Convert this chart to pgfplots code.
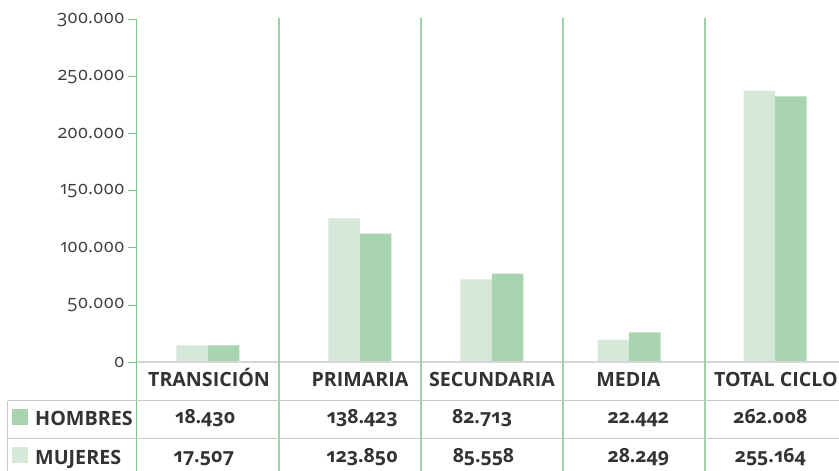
\documentclass[border=0pt]{standalone}
\usepackage{pgfplots}
\pgfplotsset{compat=1.18}
\usepackage{fontspec}
\setmainfont{Open Sans}[Numbers=OldStyle]
\definecolor{light}{HTML}{D6E8D9}
\definecolor{dark}{HTML}{A8D4B0}
\definecolor{gline}{HTML}{7CC68C}
\definecolor{gline2}{HTML}{9ED3A8}
\definecolor{grayl}{HTML}{C8C8C8}
\definecolor{zero}{HTML}{D6D6D6}
\definecolor{txt}{HTML}{333333}
\begin{document}
\begin{tikzpicture}
\begin{axis}[
  scale only axis, width=702bp, height=342bp,
  xmin=-0.5, xmax=4.4437, ymin=0, ymax=300000,
  ybar=0pt, bar width=31.5bp,
  axis x line=none, axis y line*=left,
  y axis line style={draw=none},
  ytick={0,50000,...,300000},
  scaled y ticks=false,
  /pgf/number format/fixed,
  /pgf/number format/1000 sep={.},
  /pgf/number format/assume math mode=true,
  yticklabel style={font=\fontsize{18.5}{21}\selectfont, text=txt!95},
  tick style={gline, line width=1bp},
  major tick length=9bp, tick align=outside,
  clip=false,
]
\addplot[fill=light, draw=none] coordinates {(0,14500) (1.07,125900) (2,72400) (2.965,19700) (3.993,238000)};
\addplot[fill=dark, draw=none] coordinates {(0,14500) (1.07,112700) (2,77600) (2.965,25900) (3.993,233000)};
\coordinate (O) at (axis cs:-0.5,0);
% zero line
\draw[zero, line width=2bp] (axis cs:-0.5,0) -- (axis cs:4.4437,0);
% vertical lines
\draw[gline, line width=1bp] ([yshift=1bp]axis cs:-0.5,300000) -- ([yshift=-115bp]axis cs:-0.5,0);
\pgfplotsinvokeforeach{0.5,1.5,2.5,3.5}{
  \draw[gline2, line width=1.5bp] ([yshift=2bp]axis cs:#1,300000) -- ([yshift=-115bp]axis cs:#1,0);
}
% table horizontal lines
\draw[grayl, line width=1bp] ([xshift=-129bp,yshift=-38.5bp]axis cs:-0.5,0) -- ([yshift=-38.5bp]axis cs:4.4437,0);
\draw[grayl, line width=1bp] ([xshift=-129bp,yshift=-76.5bp]axis cs:-0.5,0) -- ([yshift=-76.5bp]axis cs:4.4437,0);
\draw[grayl, line width=1bp] ([xshift=-129bp,yshift=-38.5bp]axis cs:-0.5,0) -- ([xshift=-129bp,yshift=-115bp]axis cs:-0.5,0);
% headers
\begin{scope}[every node/.style={font=\bfseries\fontsize{19.7}{23}\selectfont, text=txt, inner sep=0pt}]
\node[anchor=base] at ([yshift=-24bp]axis cs:0.007,0) {TRANSICIÓN};
\node[anchor=base] at ([yshift=-24bp]axis cs:1.07,0) {PRIMARIA};
\node[anchor=base] at ([yshift=-24bp]axis cs:2.0,0) {SECUNDARIA};
\node[anchor=base] at ([yshift=-24bp]axis cs:2.96,0) {MEDIA};
\node[anchor=base west] at ([yshift=-24bp]axis cs:3.563,0) {TOTAL CICLO};
\end{scope}
\begin{scope}[every node/.style={font=\bfseries\fontsize{19.6}{23}\selectfont, text=txt, inner sep=0pt}]
% row values
\node[anchor=base] at ([yshift=-61.5bp]axis cs:-0.02,0) {18.430};
\node[anchor=base] at ([yshift=-61.5bp]axis cs:1.085,0) {138.423};
\node[anchor=base] at ([yshift=-61.5bp]axis cs:1.93,0) {82.713};
\node[anchor=base] at ([yshift=-61.5bp]axis cs:3.03,0) {22.442};
\node[anchor=base] at ([yshift=-61.5bp]axis cs:3.96,0) {262.008};
\node[anchor=base] at ([yshift=-100.5bp]axis cs:-0.03,0) {17.507};
\node[anchor=base] at ([yshift=-100.5bp]axis cs:1.085,0) {123.850};
\node[anchor=base] at ([yshift=-100.5bp]axis cs:1.94,0) {85.558};
\node[anchor=base] at ([yshift=-100.5bp]axis cs:3.03,0) {28.249};
\node[anchor=base] at ([yshift=-100.5bp]axis cs:3.96,0) {255.164};
\end{scope}
% legend
\fill[dark] ([xshift=-125bp,yshift=-47bp]axis cs:-0.5,0) rectangle ++(16bp,-16bp);
\fill[light] ([xshift=-125bp,yshift=-85bp]axis cs:-0.5,0) rectangle ++(16bp,-16bp);
\node[anchor=base west, inner sep=0pt, font=\bfseries\fontsize{19.8}{23}\selectfont, text=txt] at ([xshift=-102bp,yshift=-63bp]axis cs:-0.5,0) {HOMBRES};
\node[anchor=base west, inner sep=0pt, font=\bfseries\fontsize{19.8}{23}\selectfont, text=txt] at ([xshift=-102bp,yshift=-102bp]axis cs:-0.5,0) {MUJERES};
\end{axis}
\pgfresetboundingbox
\path[use as bounding box] ([shift={(-137bp,-109bp)}]O) rectangle ([shift={(702bp,362bp)}]O);
\end{tikzpicture}
\end{document}
